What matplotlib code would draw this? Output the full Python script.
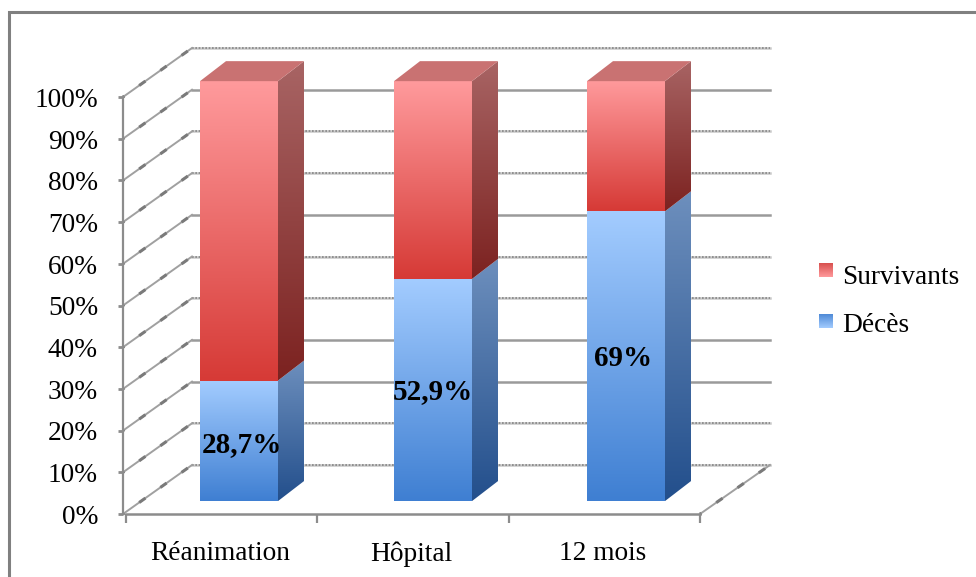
import numpy as np
import matplotlib
matplotlib.use('Agg')
import matplotlib.pyplot as plt
from matplotlib.patches import Polygon, Rectangle

CATEGORIES = ["Réanimation", "Hôpital", "12 mois"]
DECES = [28.7, 52.9, 69.0]
SURVIVANTS = [71.3, 47.1, 31.0]
VALUE_LABELS = ["28,7%", "52,9%", "69%"]
LABEL_Y = [16.7, 29.3, 37.4]
LABEL_SHIFT = [2.5, -0.5, -3]
TICKS = list(range(0, 101, 10))

FONT = ['Liberation Serif', 'DejaVu Serif']
GREY = '#8c8c8c'

# figure in pixels
W, H = 976, 577
X0, X1 = 126, 700   # axis ends
Y0, Y100 = 514, 97
PX_X = (X1 - X0) / 3.0
PX_Y = (Y0 - Y100) / 100.0

# depth of the wall and of the bars, in data units
WALL_DX, WALL_DY = 66 / PX_X, 49 / PX_Y
BAR_W = 78 / PX_X
BAR_SIDE_DX, BAR_SIDE_DY = 26 / PX_X, 20 / PX_Y
BAR_Y0 = 3.1
BAR_SCALE = 1.007


def hexrgb(c):
    return np.array(matplotlib.colors.to_rgb(c))


def grad_poly(ax, verts, top, bottom, z=3):
    """polygon filled with a vertical gradient"""
    verts = np.array(verts)
    ramp = np.linspace(0, 1, 128)[:, None, None]
    img = hexrgb(top) * (1 - ramp) + hexrgb(bottom) * ramp
    ext = [verts[:, 0].min(), verts[:, 0].max(), verts[:, 1].min(), verts[:, 1].max()]
    im = ax.imshow(img, extent=ext, origin='upper', aspect='auto', zorder=z, interpolation='bilinear')
    # the bars stick out of the axes at the top, so clip to the figure and not to the axes
    im.set_clip_box(ax.figure.bbox)
    im.set_clip_path(Polygon(verts, closed=True, transform=ax.transData))


def draw_segment(ax, x, y0, y1, front, side, z=3):
    xr = x + BAR_W
    grad_poly(ax, [(x, y0), (xr, y0), (xr, y1), (x, y1)], front[0], front[1], z)
    grad_poly(ax, [(xr, y0), (xr + BAR_SIDE_DX, y0 + BAR_SIDE_DY),
                   (xr + BAR_SIDE_DX, y1 + BAR_SIDE_DY), (xr, y1)], side[0], side[1], z)


fig = plt.figure(figsize=(W / 100, H / 100), dpi=100)
fig.patch.set_facecolor('white')
fig.add_artist(Rectangle((8.5 / W, -0.02), 1.05, 1 - 11.5 / H + 0.02, transform=fig.transFigure,
                         fill=False, ec='#808080', lw=2.2))

ax = fig.add_axes([X0 / W, 1 - Y0 / H, (X1 - X0) / W, (Y0 - Y100) / H])
ax.set_facecolor('none')
for s in ax.spines.values():
    s.set_visible(False)
ax.set_xticks([])
ax.set_yticks([])

# back wall gridlines
wavy = [0, 10, 40, 50, 70, 80, 100]
for t in TICKS:
    xs = [WALL_DX, 3 + 70 / PX_X]
    ys = [t + WALL_DY, t + WALL_DY]
    if t in wavy:
        ax.plot(xs, ys, color='#c8c8c8', lw=1.8, zorder=1, clip_on=False)
        ax.plot(xs, ys, color='#858585', lw=1.2, ls=(0, (1, 1)), zorder=1, clip_on=False)
    else:
        ax.plot(xs, ys, color='#9a9a9a', lw=1.8, zorder=1, clip_on=False)
    # diagonal to the y axis
    ax.plot([0 - 3 / PX_X, WALL_DX], [t, t + WALL_DY], color='#a0a0a0', lw=1.4, zorder=1, clip_on=False)
    ax.plot([0 - 3 / PX_X, WALL_DX], [t, t + WALL_DY], color='#7a7a7a', lw=2.2, ls=(2, (2.5, 6)), zorder=1, clip_on=False)
    ax.plot([-8 / PX_X, 0 - 3 / PX_X], [t, t], color=GREY, lw=2, zorder=2, clip_on=False, solid_capstyle='butt')
    ax.text(-28 / PX_X, t - 0.8, f"{t}%", ha='right', va='center', family=FONT, fontsize=19.7, color='black')

# floor right edge and axes
ax.plot([3, 3 + 70 / PX_X], [0, WALL_DY], color='#a0a0a0', lw=1.4, zorder=1, clip_on=False)
ax.plot([3, 3 + 70 / PX_X], [0, WALL_DY], color='#7a7a7a', lw=2.2, ls=(2, (2.5, 6)), zorder=1, clip_on=False)
ax.plot([-3 / PX_X, -3 / PX_X], [0, 100], color=GREY, lw=1.6, zorder=2, clip_on=False)
ax.plot([0, 3], [0, 0], color=GREY, lw=1.8, zorder=2, clip_on=False)
for i in range(4):
    ax.plot([i, i], [0, -9 / PX_Y], color=GREY, lw=1.6, zorder=2, clip_on=False, solid_capstyle='butt')

RED_FRONT = ('#ff9a9c', '#d63a36')
RED_SIDE = ('#a86464', '#7c2220')
BLUE_FRONT = ('#a3ccff', '#3f7fd2')
BLUE_SIDE = ('#6d8fbd', '#234f8c')

bar_lefts = [(200 - X0) / PX_X, (394 - X0) / PX_X, (587 - X0) / PX_X]
for i, cat in enumerate(CATEGORIES):
    x = bar_lefts[i]
    d = DECES[i] * BAR_SCALE + BAR_Y0
    top = (DECES[i] + SURVIVANTS[i]) * BAR_SCALE + BAR_Y0
    draw_segment(ax, x, BAR_Y0, d, BLUE_FRONT, BLUE_SIDE)
    draw_segment(ax, x, d, top, RED_FRONT, RED_SIDE)
    xr = x + BAR_W
    ax.add_patch(Polygon([(x, top), (xr, top), (xr + BAR_SIDE_DX, top + BAR_SIDE_DY),
                          (x + BAR_SIDE_DX, top + BAR_SIDE_DY)], closed=True,
                         fc='#c97272', ec='none', zorder=3, clip_on=False))
    ax.text(i + 0.49, -40 / PX_Y, cat, ha='center', va='center', family=FONT, fontsize=19.7, color='black')
    ax.text(x + BAR_W / 2 + LABEL_SHIFT[i] / PX_X, LABEL_Y[i], VALUE_LABELS[i], ha='center', va='center',
            family=FONT, fontsize=21, fontweight='bold', color='black', zorder=5)

ax.set_xlim(0, 3)
ax.set_ylim(0, 100)

# legend built by hand, the keys have a gradient too
lax = fig.add_axes([0, 0, 1, 1])
lax.set_xlim(0, W)
lax.set_ylim(H, 0)
lax.axis('off')
lax.patch.set_alpha(0)
grad_poly(lax, [(819, 263), (833, 263), (833, 277), (819, 277)], '#ff9a9c', '#d8504e')
grad_poly(lax, [(819, 314), (833, 314), (833, 328), (819, 328)], '#a3ccff', '#4f8ad6')
lax.set_xlim(0, W)
lax.set_ylim(H, 0)
lax.text(842, 277, "Survivants", ha='left', va='center', family=FONT, fontsize=19.7, color='black')
lax.text(842, 325, "Décès", ha='left', va='center', family=FONT, fontsize=19.7, color='black')

plt.savefig('out.png', dpi=100)
